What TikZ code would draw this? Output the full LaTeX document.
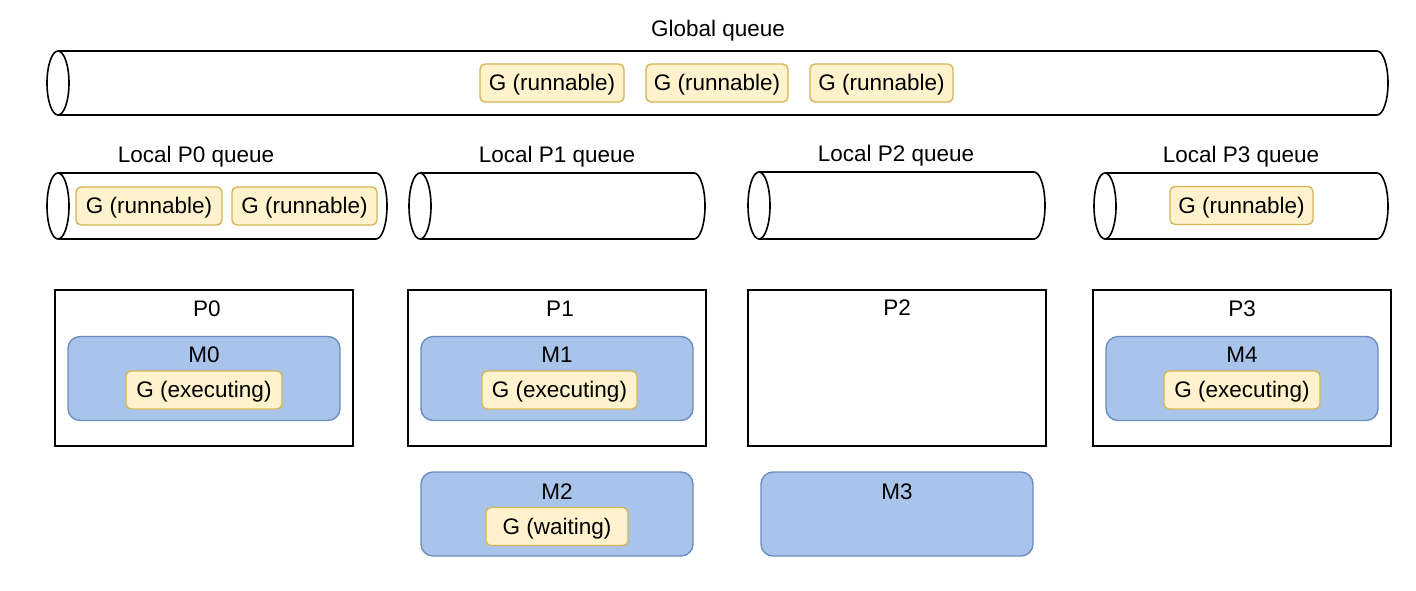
\documentclass[tikz,border=0pt]{standalone}
\usepackage{fontspec}
\setmainfont{Liberation Sans}
\definecolor{gfill}{HTML}{FFF2CC}
\definecolor{gline}{HTML}{D6B656}
\definecolor{mfill}{HTML}{A9C4EB}
\definecolor{mline}{HTML}{6C8EBF}
\tikzset{
  txt/.style={font=\fontsize{22.5}{27}\selectfont, inner sep=0pt, text height=18pt, text depth=3pt},
  cylline/.style={draw=black, line width=1.6pt},
  gbox/.style={txt, draw=gline, fill=gfill, line width=1.4pt, rounded corners=5pt, minimum height=38pt},
  mbox/.style={draw=mline, fill=mfill, line width=1.4pt, rounded corners=12pt, minimum width=272pt, minimum height=84pt},
  pbox/.style={draw=black, line width=1.6pt, minimum width=298pt, minimum height=156pt},
}
\newcommand\qcyl[4]{%
  \pgfmathsetmacro\qa{#1+11}\pgfmathsetmacro\qb{#3-11}%
  \pgfmathsetmacro\qr{(#4-#2)/2}\pgfmathsetmacro\qm{(#2+#4)/2}%
  \draw[cylline] (\qa,#2) -- (\qb,#2) arc[start angle=-90,end angle=90,x radius=11,y radius=\qr] -- (\qa,#4);
  \draw[cylline] (\qa,\qm) ellipse[x radius=11,y radius=\qr];
}
\begin{document}
\begin{tikzpicture}[x=1pt,y=-1pt]
\useasboundingbox (0,0) rectangle (1416,590);
% global queue
\node[txt] (tglobal) at (718,29) {Global queue};
\qcyl{47}{51}{1388}{115}
\node[gbox, minimum width=144pt] (g1) at (552,83) {G (runnable)};
\node[gbox, minimum width=142pt] (g2) at (717,83) {G (runnable)};
\node[gbox, minimum width=143pt] (g3) at (881.5,83) {G (runnable)};
% local queues
\node[txt] (tl0) at (196,155) {Local P0 queue};
\node[txt] (tl1) at (557,155) {Local P1 queue};
\node[txt] (tl2) at (896,154) {Local P2 queue};
\node[txt] (tl3) at (1241,155) {Local P3 queue};
\qcyl{47}{173}{387}{239}
\qcyl{409}{173}{705}{239}
\qcyl{748}{172}{1045}{239}
\qcyl{1094}{173}{1388}{239}
\node[gbox, minimum width=146pt] (l0a) at (149,206) {G (runnable)};
\node[gbox, minimum width=145pt] (l0b) at (304.5,206) {G (runnable)};
\node[gbox, minimum width=143pt] (l3a) at (1241.5,205.5) {G (runnable)};
% processors
\node[pbox] (p0) at (204,368) {};
\node[pbox] (p1) at (557,368) {};
\node[pbox] (p2) at (897,368) {};
\node[pbox] (p3) at (1242,368) {};
\node[txt] (tp0) at (207,309) {P0};
\node[txt] (tp1) at (560,309) {P1};
\node[txt] (tp2) at (897,308) {P2};
\node[txt] (tp3) at (1242,309) {P3};
% machines
\node[mbox] (m0) at (204,378.5) {};
\node[mbox] (m1) at (557,378.5) {};
\node[mbox] (m4) at (1242,378.5) {};
\node[mbox] (m2) at (557,514) {};
\node[mbox] (m3) at (897,514) {};
\node[txt] (tm0) at (204,355) {M0};
\node[txt] (tm1) at (557,355) {M1};
\node[txt] (tm4) at (1242,355) {M4};
\node[txt] (tm2) at (557,492) {M2};
\node[txt] (tm3) at (897,492) {M3};
\node[gbox, minimum width=156pt] (e0) at (204,390) {G (executing)};
\node[gbox, minimum width=155pt] (e1) at (559.5,390) {G (executing)};
\node[gbox, minimum width=156pt] (e4) at (1242,390) {G (executing)};
\node[gbox, minimum width=142pt] (w2) at (557,526.5) {G (waiting)};
\end{tikzpicture}
\end{document}
